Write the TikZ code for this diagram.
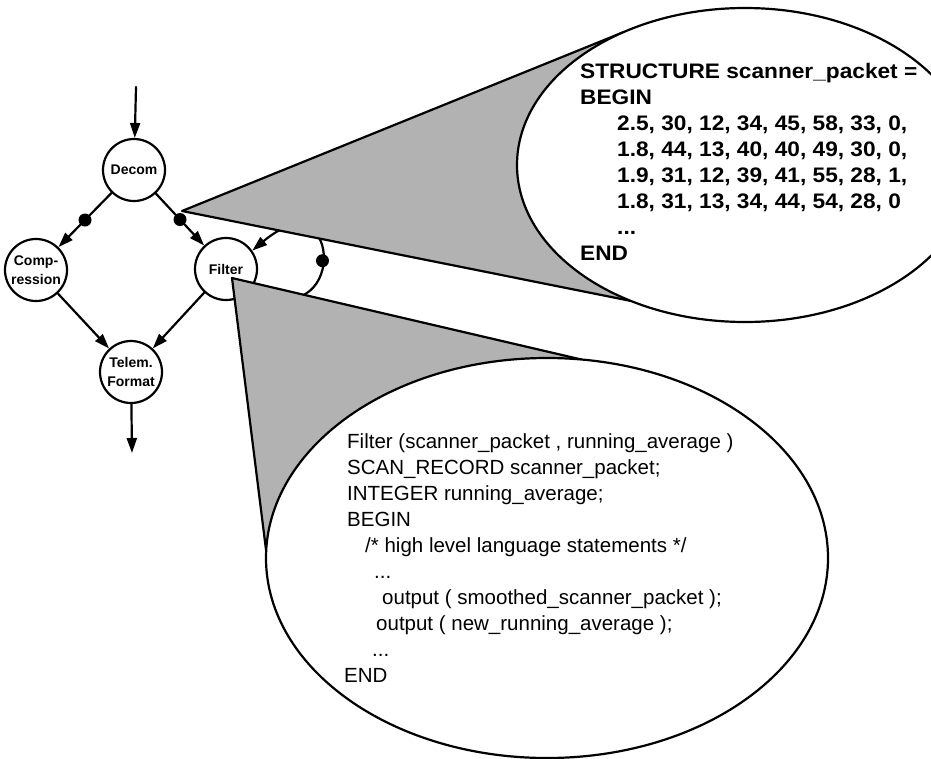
\documentclass[tikz,border=0pt]{standalone}
\usepackage{fontspec}
\setmainfont{Liberation Sans}
\newfontfamily\WideFont[FakeStretch=1.08]{Liberation Sans}
\usetikzlibrary{arrows.meta,calc}
\tikzset{>={Triangle[length=15pt,width=10pt]}}
\colorlet{InkBlack}{black}
\colorlet{StippleGray}{black!30}
\tikzset{
  ProcNode/.style={draw=InkBlack, circle, line width=2.2pt, minimum size=62pt,
      inner sep=0pt, fill=white, align=center,
      font=\fontsize{14}{19}\selectfont\bfseries},
  FlowArrow/.style={draw=InkBlack, line width=2.2pt, ->},
  TokenDot/.style={circle, fill=InkBlack, inner sep=0pt, minimum size=13pt},
  Callout/.style={fill=StippleGray, draw=InkBlack, line width=2.2pt, line join=round},
  Bubble/.style={fill=white, draw=InkBlack, line width=2.2pt}
}

\begin{document}
\begin{tikzpicture}[x=1pt,y=-1pt,line cap=round]
  \useasboundingbox (0,0) rectangle (931,758);

  % process graph
  \node[ProcNode] (decom) at (134,170) {Decom};
  \node[ProcNode] (comp) at (36,270) {Comp-\\ression};
  \node[ProcNode] (filter) at (226,269) {Filter};
  \node[ProcNode] (telem) at (131,372) {Telem.\\Format};
  \coordinate (src) at (136,87);
  \coordinate (sink) at (132,453);

  \draw[FlowArrow] (src) -- (decom);
  \draw[FlowArrow] (decom) -- node[TokenDot] (dotC) {} (comp);
  \draw[FlowArrow] (decom) -- node[TokenDot] (dotF) {} (filter);
  \draw[FlowArrow] (comp) -- (telem);
  \draw[FlowArrow] (filter) -- (telem);
  \draw[FlowArrow] (telem) -- (sink);
  \draw[FlowArrow] (filter.-35) .. controls +(-30:110pt) and +(40:120pt) .. (filter.35)
    node[TokenDot, pos=0.5] (dotL) {};

  % callout for the data packet
  \coordinate (upC) at (745,165);
  \coordinate (upTip) at (182,211);
  \draw[Callout] (upTip) -- ($(upC)+(122:228pt and 157pt)$)
    -- ($(upC)+(-120:228pt and 157pt)$) -- cycle;
  \draw[Bubble] (upC) ellipse [x radius=228pt, y radius=157pt];
  \node[anchor=north west, inner sep=0pt, align=left,
    font=\WideFont\fontsize{21}{26}\selectfont\bfseries] (packetText) at (580,63)
    {STRUCTURE scanner\_packet =\\
     BEGIN\\
     \hspace*{37pt}2.5, 30, 12, 34, 45, 58, 33, 0,\\
     \hspace*{37pt}1.8, 44, 13, 40, 40, 49, 30, 0,\\
     \hspace*{37pt}1.9, 31, 12, 39, 41, 55, 28, 1,\\
     \hspace*{37pt}1.8, 31, 13, 34, 44, 54, 28, 0\\
     \hspace*{37pt}...\\
     END};

  % callout for the filter code
  \coordinate (loC) at (547,558);
  \coordinate (loTip) at (232,278);
  \draw[Callout] (loTip) -- ($(loC)+(83:281pt and 200pt)$)
    -- ($(loC)+(178:281pt and 200pt)$) -- cycle;
  \draw[Bubble] (loC) ellipse [x radius=281pt, y radius=200pt];
  \node[anchor=north west, inner sep=0pt, align=left,
    font=\fontsize{20.5}{26}\selectfont] (filterText) at (347,433)
    {Filter (scanner\_packet , running\_average )\\
     SCAN\_RECORD scanner\_packet;\\
     INTEGER running\_average;\\
     BEGIN\\
     \hspace*{18pt}/* high level language statements */\\
     \hspace*{27pt}...\\
     \hspace*{35pt}output ( smoothed\_scanner\_packet );\\
     \hspace*{29pt}output ( new\_running\_average );\\
     \hspace*{25pt}...\\
     \hspace*{-3pt}END};
\end{tikzpicture}
\end{document}
